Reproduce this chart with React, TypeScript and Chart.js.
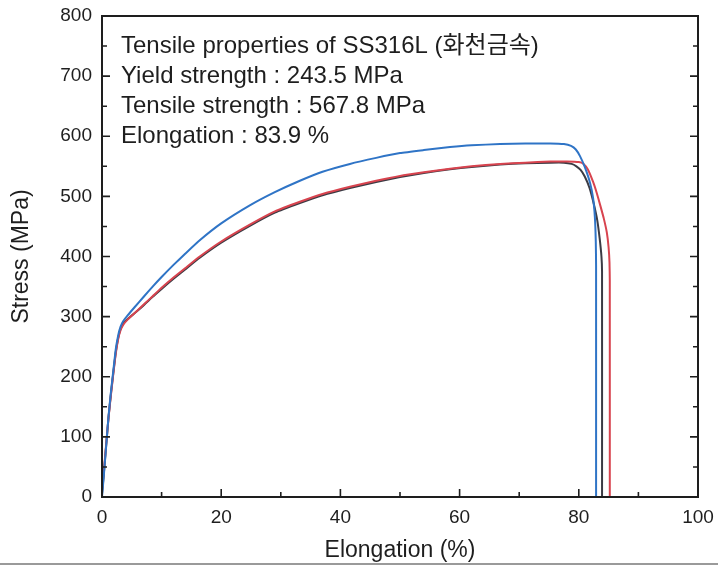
import React, { useEffect, useRef } from "react";
import { Chart, registerables } from "chart.js";

Chart.register(...registerables);

// Stress–strain curves of three SS316L specimens (strain in %, stress in MPa)
const blueStrain = [0, 0.3, 0.7, 1.1, 1.5, 1.9, 2.3, 2.7, 3.1, 3.6, 4.3, 5.5, 7, 8.5, 10, 12, 14, 16.4, 20, 24.8, 29, 33.2, 37, 41.6, 46, 50, 54, 58.4, 62, 66.8, 71, 75.2, 77.5, 78.7, 79.5, 80.2, 81, 81.9, 82.4, 82.7, 82.85, 82.9, 82.9];
const blueStress = [0, 35, 85, 135, 175, 210, 245, 268, 283, 293, 302, 316, 333, 350, 366, 386, 405, 427, 455, 485, 507, 526, 541, 554, 564, 572, 577, 582, 585, 587, 588, 588, 587, 584, 578, 567, 549, 522, 497, 465, 425, 385, 0];

const redStrain = [0, 0.3, 0.7, 1.1, 1.5, 1.9, 2.3, 2.7, 3.1, 3.6, 4.3, 5.5, 7, 8.5, 10, 12, 14, 16.4, 20, 24.8, 29, 33.2, 37, 41.6, 46, 50, 54, 58.4, 62, 66.8, 71, 75.2, 78, 80, 80.8, 81.5, 82.4, 83, 83.6, 84.2, 84.7, 85, 85.15, 85.2, 85.2];
const redStress = [12, 42, 88, 132, 170, 205, 238, 262, 277, 287, 295, 306, 320, 334, 348, 365, 381, 400, 425, 453, 475, 491, 504, 516, 526, 534, 540, 546, 550, 554, 556, 558, 558, 557, 554, 545, 524, 506, 485, 463, 440, 415, 390, 360, 0];

const darkStrain = [0, 0.3, 0.7, 1.1, 1.5, 1.9, 2.3, 2.7, 3.1, 3.6, 4.3, 5.5, 7, 8.5, 10, 12, 14, 16.4, 20, 24.8, 29, 33.2, 37, 41.6, 46, 50, 54, 58.4, 62, 66.8, 71, 75.2, 77.5, 78.8, 79.6, 80.3, 81, 81.8, 82.5, 83.1, 83.5, 83.8, 83.9, 83.9];
const darkStress = [5, 38, 86, 133, 172, 207, 240, 264, 279, 289, 296, 306, 319, 333, 346, 363, 379, 398, 423, 451, 473, 489, 502, 514, 524, 532, 539, 545, 549, 553, 555, 556, 556, 554, 550, 544, 533, 514, 488, 460, 430, 400, 375, 0];

const noteLines = [
  "Tensile properties of SS316L (화천금속)",
  "Yield strength : 243.5 MPa",
  "Tensile strength : 567.8 MPa",
  "Elongation : 83.9 %",
];

const xTitle = "Elongation (%)";
const yTitle = "Stress (MPa)";

const xMajor = [0, 20, 40, 60, 80, 100];
const xMinor = [10, 30, 50, 70, 90];
const yMajor = [0, 100, 200, 300, 400, 500, 600, 700, 800];
const yMinor = [50, 150, 250, 350, 450, 550, 650, 750];

const FONT = '"Liberation Sans", Arial, "Noto Sans CJK KR", sans-serif';
const INK = "#1e1e1e";

function toPoints(xs: number[], ys: number[]) {
  return xs.map((x, i) => ({ x, y: ys[i] }));
}

// Keep the plot box fixed by the layout padding alone, not by label overhang
function clearLabelPadding(s: any) {
  s.paddingTop = 0;
  s.paddingBottom = 0;
  s.paddingLeft = 0;
  s.paddingRight = 0;
}

// Box frame, inward ticks, axis titles and the property notes
const framePlugin = {
  id: "frame",
  afterDraw(chart: any) {
    const { ctx, chartArea } = chart;
    const { left, right, top, bottom } = chartArea;
    const xs = chart.scales.x;
    const ys = chart.scales.y;
    ctx.save();

    ctx.strokeStyle = INK;
    ctx.lineWidth = 2;
    ctx.strokeRect(left, top, right - left, bottom - top);

    ctx.lineWidth = 1.6;
    ctx.beginPath();
    const tick = (x1: number, y1: number, x2: number, y2: number) => {
      ctx.moveTo(x1, y1);
      ctx.lineTo(x2, y2);
    };
    xMajor.forEach((v) => {
      const px = xs.getPixelForValue(v);
      tick(px, bottom, px, bottom - 8);
    });
    xMinor.forEach((v) => {
      const px = xs.getPixelForValue(v);
      tick(px, bottom, px, bottom - 5);
    });
    yMajor.forEach((v) => {
      const py = ys.getPixelForValue(v);
      tick(left, py, left + 8, py);
      tick(right, py, right - 8, py);
    });
    yMinor.forEach((v) => {
      const py = ys.getPixelForValue(v);
      tick(left, py, left + 5, py);
      tick(right, py, right - 5, py);
    });
    ctx.stroke();

    ctx.fillStyle = INK;
    ctx.font = `23px ${FONT}`;
    ctx.textAlign = "center";
    ctx.textBaseline = "middle";
    ctx.fillText(xTitle, (left + right) / 2, 551);
    ctx.save();
    ctx.translate(22, (top + bottom) / 2);
    ctx.rotate(-Math.PI / 2);
    ctx.fillText(yTitle, 0, 0);
    ctx.restore();

    ctx.font = `24px ${FONT}`;
    ctx.textAlign = "left";
    ctx.textBaseline = "alphabetic";
    noteLines.forEach((line, i) => {
      ctx.fillText(line, left + 19, top + 37 + i * 30);
    });

    ctx.strokeStyle = "#9a9a9a";
    ctx.lineWidth = 2;
    ctx.beginPath();
    ctx.moveTo(0, 564);
    ctx.lineTo(chart.width, 564);
    ctx.stroke();

    ctx.restore();
  },
};

export default function App() {
  const canvasRef = useRef<HTMLCanvasElement | null>(null);

  useEffect(() => {
    if (!canvasRef.current) return;
    const chart = new Chart(canvasRef.current, {
      type: "scatter",
      data: {
        datasets: [
          {
            data: toPoints(blueStrain, blueStress),
            borderColor: "#2f74c6",
          },
          {
            data: toPoints(redStrain, redStress),
            borderColor: "#d8444f",
          },
          {
            data: toPoints(darkStrain, darkStress),
            borderColor: "#3b3b44",
          },
        ].map((d) => ({
          ...d,
          showLine: true,
          pointRadius: 0,
          borderWidth: 2,
          tension: 0.15,
          fill: false,
        })),
      },
      options: {
        responsive: false,
        animation: false,
        layout: { padding: { top: 16, right: 20, left: 0, bottom: 0 } },
        plugins: {
          legend: { display: false },
          tooltip: { enabled: false },
        },
        scales: {
          x: {
            type: "linear",
            min: 0,
            max: 100,
            ticks: {
              stepSize: 20,
              padding: 9,
              color: INK,
              font: { family: FONT, size: 19 },
            },
            grid: { display: false, drawTicks: false },
            border: { display: false },
            afterFit: (s: any) => {
              s.height = 70;
              clearLabelPadding(s);
            },
          },
          y: {
            type: "linear",
            min: 0,
            max: 800,
            ticks: {
              stepSize: 100,
              padding: 10,
              color: INK,
              font: { family: FONT, size: 19 },
            },
            grid: { display: false, drawTicks: false },
            border: { display: false },
            afterFit: (s: any) => {
              s.width = 102;
              clearLabelPadding(s);
            },
          },
        },
      },
      plugins: [framePlugin],
    });
    return () => chart.destroy();
  }, []);

  return (
    <div style={{ position: "fixed", left: 0, top: 0, width: 718, height: 567, background: "#fff" }}>
      <canvas ref={canvasRef} width={718} height={567} />
    </div>
  );
}
